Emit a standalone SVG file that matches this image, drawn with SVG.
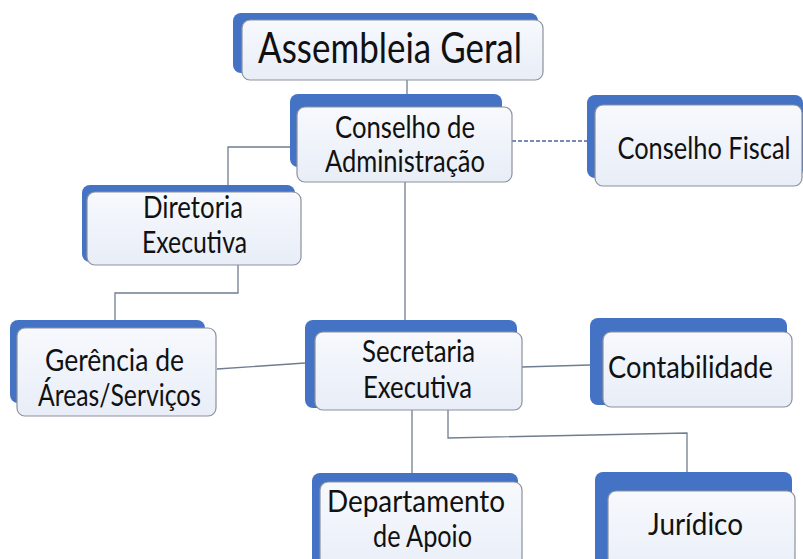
<svg xmlns="http://www.w3.org/2000/svg" width="803" height="559" viewBox="0 0 803 559">
  <defs>
    <linearGradient id="face" x1="0" y1="0" x2="0" y2="1">
      <stop offset="0" stop-color="#f7f9fd"/>
      <stop offset="1" stop-color="#e8edf7"/>
    </linearGradient>
    <style>
      .back { fill: #4472c4; }
      .face { fill: url(#face); stroke: #8b929c; stroke-width: 1.2; }
      .lbl { font-family: Lato, "Open Sans", "Liberation Sans", sans-serif; font-size: 30px; fill: #111111; text-anchor: middle; }
      .big { font-size: 43px; }
      .conn { fill: none; stroke: #6f7d8f; stroke-width: 1.3; }
      .dash { fill: none; stroke: #4a66a0; stroke-width: 1.6; stroke-dasharray: 4 2; }
    </style>
  </defs>
  <rect width="803" height="559" fill="#ffffff"/>

  <g id="connectors">
    <path class="conn" d="M407 80 V107"/>
    <path class="conn" d="M290 147 H228 V185"/>
    <path class="conn" d="M405 182 V320"/>
    <path class="dash" d="M512 141 H587"/>
    <path class="conn" d="M238 265 V293 H115 V320"/>
    <path class="conn" d="M217 369 L305 363"/>
    <path class="conn" d="M522 367 L590 365"/>
    <path class="conn" d="M412 410 V473"/>
    <path class="conn" d="M448 410 V438 L687 433 V472"/>
  </g>

  <g id="assembleia">
    <rect class="back" x="233" y="13" width="305" height="60" rx="8"/>
    <rect class="face" x="242" y="20" width="301" height="60" rx="8"/>
    <text class="lbl big" x="390" y="63" textLength="264" lengthAdjust="spacingAndGlyphs">Assembleia Geral</text>
  </g>

  <g id="conselho-adm">
    <rect class="back" x="290" y="94" width="212" height="73" rx="8"/>
    <rect class="face" x="297" y="107" width="215" height="75" rx="8"/>
    <text class="lbl" x="405" y="138" textLength="140" lengthAdjust="spacingAndGlyphs">Conselho de</text>
    <text class="lbl" x="405" y="172" textLength="160" lengthAdjust="spacingAndGlyphs">Administração</text>
  </g>

  <g id="conselho-fiscal">
    <rect class="back" x="587" y="95" width="216" height="83" rx="8"/>
    <rect class="face" x="595" y="105" width="207" height="81" rx="8"/>
    <text class="lbl" transform="translate(704 159) scale(0.84 1)" x="0" y="0" textLength="206" lengthAdjust="spacingAndGlyphs">Conselho Fiscal</text>
  </g>

  <g id="diretoria">
    <rect class="back" x="82" y="185" width="213" height="77" rx="8"/>
    <rect class="face" x="87" y="192" width="214" height="73" rx="8"/>
    <text class="lbl" x="193" y="218" textLength="100" lengthAdjust="spacingAndGlyphs">Diretoria</text>
    <text class="lbl" x="194.5" y="253" textLength="105" lengthAdjust="spacingAndGlyphs">Executiva</text>
  </g>

  <g id="gerencia">
    <rect class="back" x="10" y="320" width="195" height="83" rx="8"/>
    <rect class="face" x="17" y="328" width="199" height="88" rx="8"/>
    <text class="lbl" x="114.5" y="371" textLength="139" lengthAdjust="spacingAndGlyphs">Gerência de</text>
    <text class="lbl" x="119.5" y="406" textLength="163" lengthAdjust="spacingAndGlyphs">Áreas/Serviços</text>
  </g>

  <g id="secretaria">
    <rect class="back" x="305" y="320" width="212" height="88" rx="8"/>
    <rect class="face" x="315" y="332" width="207" height="78" rx="8"/>
    <text class="lbl" x="418.5" y="362" textLength="113" lengthAdjust="spacingAndGlyphs">Secretaria</text>
    <text class="lbl" x="417.5" y="398" textLength="109" lengthAdjust="spacingAndGlyphs">Executiva</text>
  </g>

  <g id="contabilidade">
    <rect class="back" x="590" y="318" width="197" height="87" rx="8"/>
    <rect class="face" x="603" y="332" width="189" height="75" rx="8"/>
    <text class="lbl" x="690.5" y="378" textLength="165" lengthAdjust="spacingAndGlyphs">Contabilidade</text>
  </g>

  <g id="departamento">
    <rect class="back" x="312" y="473" width="206" height="100" rx="8"/>
    <rect class="face" x="320" y="482" width="202" height="95" rx="8"/>
    <text class="lbl" x="416" y="512" textLength="178" lengthAdjust="spacingAndGlyphs">Departamento</text>
    <text class="lbl" x="422.5" y="547" textLength="99" lengthAdjust="spacingAndGlyphs">de Apoio</text>
  </g>

  <g id="juridico">
    <rect class="back" x="595" y="472" width="197" height="100" rx="8"/>
    <rect class="face" x="608" y="491" width="187" height="90" rx="8"/>
    <text class="lbl" x="695.5" y="535" textLength="95" lengthAdjust="spacingAndGlyphs">Jurídico</text>
  </g>
</svg>
